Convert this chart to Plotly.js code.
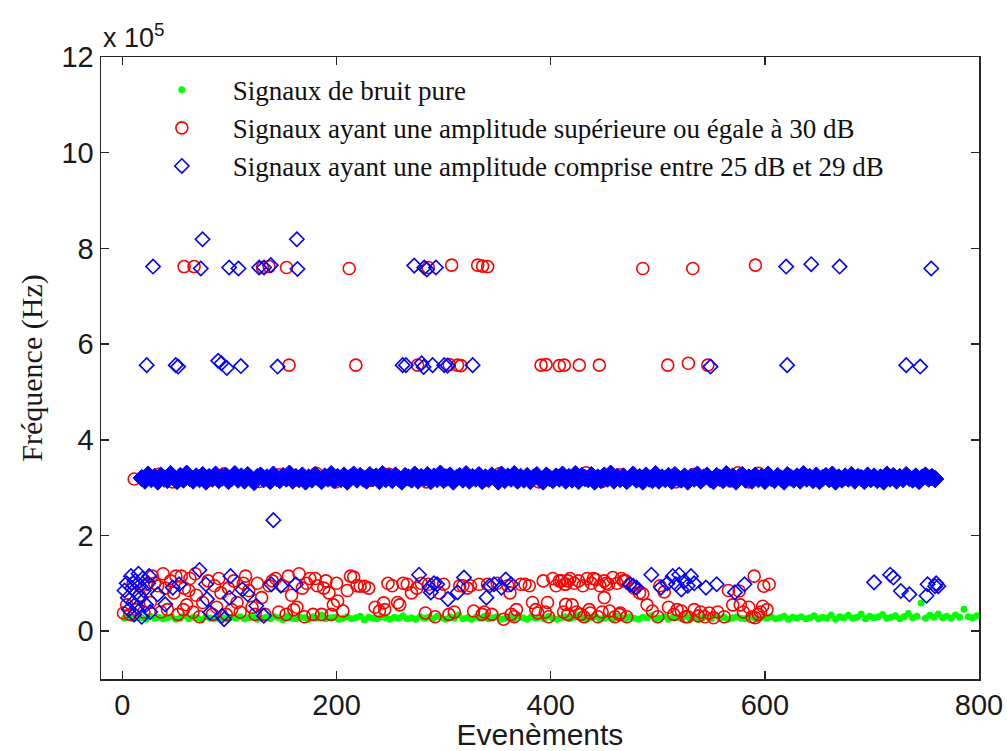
<!DOCTYPE html>
<html>
<head>
<meta charset="utf-8">
<script src="https://cdn.plot.ly/plotly-3.0.1.min.js"></script>
<style>html,body{margin:0;padding:0;background:#fff;}#chart{width:1007px;height:751px;}</style>
</head>
<body>
<div id="chart"></div>
<script>
// Values in units of 10^5 Hz
var seriesNames = ["Signaux de bruit pure",
  "Signaux ayant une amplitude supérieure ou égale à 30 dB",
  "Signaux ayant une amplitude comprise entre 25 dB et 29 dB"];
var xTicks = [0, 200, 400, 600, 800];
var yTicks = [0, 2, 4, 6, 8, 10, 12];
var yExponentLabel = "x 10<sup>5</sup>";

// Pure noise signals (green)
var noiseX = [2,6,10,14,18,22,26,30,34,38,42,46,50,54,58,62,66,70,74,78,82,86,90,94,98,102,106,110,114,118,122,126,130,134,138,142,146,150,154,158,162,166,170,174,178,182,186,190,194,198,202,206,210,214,218,222,226,230,234,238,242,246,250,254,258,262,266,270,274,278,282,286,290,294,298,302,306,310,314,318,322,326,330,334,338,342,346,350,354,358,362,366,370,374,378,382,386,390,394,398,402,406,410,414,418,422,426,430,434,438,442,446,450,454,458,462,466,470,474,478,482,486,490,494,498,502,506,510,514,518,522,526,530,534,538,542,546,550,554,558,562,566,570,574,578,582,586,590,594,598,602,606,610,614,618,622,626,630,634,638,642,646,650,654,658,662,666,670,674,678,682,686,690,694,698,702,706,710,714,718,722,726,730,734,738,742,746,750,754,758,762,766,770,774,778,782,786,790,794,798];
var noiseY = [0.27,0.29,0.26,0.30,0.28,0.25,0.31,0.27,0.29,0.26,
  0.28,0.30,0.25,0.27,0.32,0.26,0.29,0.28,0.24,0.30,
  0.27,0.26,0.31,0.28,0.25,0.29,0.27,0.30,0.26,0.28,
  0.32,0.25,0.27,0.29,0.26,0.30,0.28,0.24,0.31,0.27,
  0.26,0.29,0.28,0.25,0.30,0.27,0.33,0.26,0.28,0.29,
  0.25,0.27,0.30,0.26,0.28,0.31,0.24,0.29,0.27,0.26,
  0.30,0.28,0.25,0.29,0.27,0.32,0.26,0.28,0.25,0.30,
  0.27,0.29,0.26,0.31,0.28,0.25,0.30,0.27,0.34,0.26,
  0.28,0.25,0.29,0.27,0.31,0.26,0.28,0.30,0.25,0.27,
  0.29,0.26,0.32,0.28,0.25,0.30,0.27,0.29,0.26,0.31,
  0.27,0.25,0.28,0.30,0.26,0.29,0.33,0.27,0.25,0.28,
  0.30,0.26,0.27,0.29,0.25,0.31,0.28,0.26,0.30,0.27,
  0.25,0.29,0.28,0.32,0.26,0.27,0.30,0.25,0.29,0.28,
  0.26,0.31,0.27,0.29,0.25,0.28,0.30,0.26,0.33,0.27,
  0.29,0.25,0.28,0.30,0.27,0.26,0.32,0.28,0.25,0.29,
  0.27,0.30,0.26,0.28,0.31,0.25,0.29,0.27,0.30,0.26,
  0.28,0.32,0.26,0.29,0.27,0.34,0.25,0.30,0.28,0.33,
  0.27,0.29,0.36,0.26,0.31,0.28,0.30,0.35,0.27,0.29,
  0.32,0.26,0.30,0.37,0.28,0.31,0.59,0.27,0.33,0.29,
  0.36,0.28,0.31,0.27,0.34,0.29,0.46,0.30,0.28,0.32];

// Signals >= 30 dB (red circles)
var highX = [
  // low cluster
  1,4,7,10,13,16,20,23,26,
  28,33,38,42,45,48,52,55,58,60,63,66,69,72,86,88,92,97,104,107,110,115,118,121,126,130,133,143,146,150,155,158,160,165,168,170,175,178,182,186,190,193,197,200,
  201,206,213,216,222,226,236,240,244,252,257,262,266,270,283,286,292,296,305,318,325,328,333,338,345,356,362,363,368,372,380,383,388,393,397,398,402,408,413,416,
  410,414,418,422,426,430,434,438,442,446,450,454,458,462,466,470,474,414,450,420,424,431,437,444,455,460,465,471,486,490,495,500,506,510,515,522,528,534,538,548,552,566,570,576,577,588,590,599,598,591,604,596,602,
  30,36,40,50,57,62,68,75,80,84,90,99,102,113,124,137,140,153,163,172,180,188,195,
  210,219,230,245,248,259,275,279,300,310,315,322,336,341,350,360,366,376,386,395,405,
  412,416,428,436,440,448,452,464,468,478,483,502,518,526,540,544,556,562,580,585,594,
  // band near 3.2
  11,20,34,47,61,79,95,112,128,146,163,181,199,214,232,249,266,284,301,318,337,352,371,389,406,423,433,448,465,482,499,517,534,551,568,575,585,594,601,
  // row near 5.55
  155.7,218,275.7,305.2,313,316.2,391,395.6,408,412.7,426.7,445.4,509.3,528.6,546.7,
  // row near 7.6
  57.6,66.9,130.8,137,153.3,211.8,285.6,307.5,331.8,336.4,341.1,486,532.7,591.2];
var highY = [
  0.38,0.55,0.35,1.0,0.45,0.75,0.4,0.98,0.6,
  1.15,0.95,1.2,0.45,1.05,0.8,0.35,1.15,0.9,0.55,1.1,0.4,0.75,0.3,0.95,0.5,0.8,0.35,1.05,0.6,0.4,1.15,0.85,0.5,1.0,0.7,0.35,1.1,0.4,0.95,1.15,0.75,0.45,1.2,0.9,0.3,1.1,0.35,0.95,0.35,1.05,0.8,0.55,1.0,
  0.63,0.42,1.15,1.13,0.94,0.94,0.5,0.42,0.59,0.95,0.6,1.0,0.98,0.8,0.38,0.98,0.3,0.8,0.35,0.95,0.95,0.42,0.98,0.4,0.35,0.25,0.8,0.35,0.45,0.98,0.95,0.6,0.38,1.05,0.6,0.3,1.1,1.05,0.98,0.35,
  1.05,0.98,1.1,1.0,1.05,0.95,1.1,1.0,1.08,0.95,1.05,0.98,1.12,1.0,1.1,1.05,0.98,0.56,0.7,0.55,0.4,0.3,0.38,0.3,0.42,0.3,0.38,0.3,0.78,0.55,0.42,0.3,0.82,0.5,0.35,0.42,0.3,0.45,0.32,0.38,0.28,0.85,0.55,0.84,0.55,0.3,1.15,0.94,0.52,0.28,0.98,0.4,0.45,
  1.0,0.4,0.9,1.15,0.45,0.85,1.2,0.6,1.05,0.35,1.1,0.9,0.45,1.0,0.35,0.95,1.05,0.35,0.5,1.0,1.1,0.9,0.35,
  0.85,0.95,0.9,0.45,1.0,0.55,0.9,1.0,0.98,0.4,0.95,0.9,0.35,0.98,1.0,0.95,0.3,0.98,0.45,0.4,0.95,
  0.4,1.05,0.35,0.45,1.1,0.4,1.0,0.35,1.05,0.9,0.8,0.95,0.45,0.3,0.4,0.3,0.4,0.3,0.4,0.5,0.35,
  3.18,3.22,3.28,3.12,3.25,3.14,3.29,3.2,3.13,3.27,3.16,3.3,3.12,3.24,3.15,3.28,3.18,3.12,3.26,3.21,3.14,3.29,3.17,3.12,3.25,3.2,3.31,3.13,3.27,3.16,3.22,3.12,3.28,3.19,3.14,3.31,3.12,3.3,3.2,
  5.56,5.56,5.56,5.57,5.56,5.55,5.56,5.57,5.55,5.56,5.56,5.56,5.56,5.6,5.56,
  7.62,7.62,7.6,7.62,7.6,7.58,7.6,7.65,7.65,7.63,7.62,7.58,7.58,7.65];

// Signals 25-29 dB (blue diamonds), scattered points
var midX = [
  2,4,5,6,8,9,10,11,12,13,14,15,16,17,18,19,20,22,24,26,25,33,40,47,53,72,78,79,82,93,95,101,100,112,117,125,132,139,148,162,
  277,287,291,294,288,304,313,319,340,343,347,354,363,358,
  474,477,480,494,503,509,514,517,520,522,525,528,531,534,545,555,572,581,
  702,717,720,727,735,751,752,759,762,760,
  141,
  22.7,49.8,52,89.4,92.5,97.5,110.6,144.9,261.7,264.8,279.4,281.3,289.7,300.6,303.7,327.1,549.2,620.8,732,745.1,
  28.6,73.2,99.7,108.4,127.7,132.3,138.6,163.5,272.5,281.9,284.4,292.8,619.9,643.3,669.8,755.4,
  74.8,162.9];
var midY = [
  0.85,1.0,0.7,0.45,1.15,0.9,0.6,0.35,1.05,0.8,0.5,1.2,0.95,0.7,0.3,1.1,0.85,0.55,1.0,0.4,1.15,0.77,0.56,0.91,0.98,1.28,0.98,0.67,0.39,0.32,0.25,1.15,0.7,0.87,0.77,0.53,0.32,0.98,0.95,0.98,
  1.18,0.91,1.0,0.98,0.81,0.67,0.81,1.12,0.7,0.95,0.98,0.91,0.98,1.08,
  0.98,0.95,0.91,1.18,0.91,1.0,1.15,0.98,1.18,0.87,1.05,0.95,1.15,1.0,0.91,0.98,0.81,0.98,
  1.02,1.18,1.12,0.84,0.77,0.74,0.98,0.94,0.94,1.0,
  2.32,
  5.56,5.56,5.53,5.65,5.6,5.5,5.54,5.53,5.56,5.56,5.6,5.52,5.56,5.56,5.55,5.56,5.53,5.56,5.56,5.53,
  7.62,7.58,7.6,7.58,7.6,7.6,7.65,7.57,7.64,7.6,7.56,7.6,7.62,7.67,7.62,7.58,
  8.19,8.19];

// Blue diamonds forming the dense band near 3.2
var midBandX = [18,21,24,27,30,33,36,39,42,45,48,51,54,57,60,63,66,69,72,75,78,81,84,87,90,93,96,99,102,105,108,111,114,117,120,123,126,129,132,135,138,141,144,147,150,153,156,159,162,165,168,171,174,177,180,183,186,189,192,195,198,201,204,207,210,213,216,219,222,225,228,231,234,237,240,243,246,249,252,255,258,261,264,267,270,273,276,279,282,285,288,291,294,297,300,303,306,309,312,315,318,321,324,327,330,333,336,339,342,345,348,351,354,357,360,363,366,369,372,375,378,381,384,387,390,393,396,399,402,405,408,411,414,417,420,423,426,429,432,435,438,441,444,447,450,453,456,459,462,465,468,471,474,477,480,483,486,489,492,495,498,501,504,507,510,513,516,519,522,525,528,531,534,537,540,543,546,549,552,555,558,561,564,567,570,573,576,579,582,585,588,591,594,597,600,603,606,609,612,615,618,621,624,627,630,633,636,639,642,645,648,651,654,657,660,663,666,669,672,675,678,681,684,687,690,693,696,699,702,705,708,711,714,717,720,723,726,729,732,735,738,741,744,747,750,753,756,759];
var midBandY = [3.20,3.15,3.27,3.18,3.22,3.13,3.25,3.19,3.16,3.28,
  3.21,3.14,3.24,3.17,3.29,3.20,3.15,3.23,3.18,3.26,
  3.13,3.22,3.19,3.27,3.16,3.21,3.24,3.14,3.20,3.28,
  3.17,3.23,3.15,3.26,3.19,3.12,3.22,3.25,3.18,3.21,
  3.14,3.27,3.20,3.16,3.24,3.19,3.29,3.15,3.22,3.18,
  3.25,3.13,3.21,3.17,3.26,3.20,3.14,3.23,3.19,3.28,
  3.16,3.22,3.18,3.25,3.13,3.21,3.27,3.17,3.24,3.19,
  3.15,3.26,3.20,3.23,3.14,3.28,3.18,3.22,3.16,3.25,
  3.19,3.13,3.24,3.21,3.17,3.27,3.15,3.22,3.20,3.26,
  3.14,3.23,3.18,3.29,3.16,3.21,3.25,3.13,3.20,3.24,
  3.17,3.28,3.15,3.22,3.19,3.26,3.14,3.21,3.18,3.25,
  3.20,3.13,3.27,3.16,3.23,3.19,3.28,3.15,3.22,3.17,
  3.24,3.14,3.21,3.26,3.18,3.13,3.25,3.20,3.16,3.23,
  3.19,3.27,3.15,3.22,3.17,3.28,3.14,3.24,3.20,3.18,
  3.26,3.13,3.21,3.16,3.25,3.19,3.29,3.15,3.22,3.18,
  3.23,3.14,3.20,3.27,3.17,3.22,3.13,3.25,3.19,3.16,
  3.28,3.15,3.21,3.18,3.24,3.14,3.26,3.20,3.17,3.23,
  3.13,3.22,3.19,3.27,3.15,3.21,3.25,3.18,3.14,3.24,
  3.20,3.16,3.28,3.19,3.23,3.13,3.22,3.26,3.17,3.21,
  3.15,3.25,3.18,3.22,3.14,3.27,3.20,3.16,3.24,3.19,
  3.13,3.26,3.21,3.17,3.23,3.15,3.28,3.19,3.22,3.16,
  3.25,3.14,3.20,3.24,3.18,3.27,3.13,3.21,3.17,3.23,
  3.19,3.26,3.15,3.22,3.20,3.14,3.25,3.18,3.23,3.16,
  3.21,3.13,3.27,3.19,3.24,3.15,3.22,3.18,3.26,3.20,
  3.17,3.23,3.14,3.21,3.25,3.19,3.22,3.18];

var sans = "Liberation Sans, Arial, Helvetica, sans-serif";
var serif = "Liberation Serif, Times New Roman, serif";
var axisColor = "#262626";

var traces = [
  {type: "scatter", mode: "markers", name: seriesNames[0], x: noiseX, y: noiseY,
   marker: {symbol: "circle", size: 7, color: "#00ff00", line: {width: 0}}},
  {type: "scatter", mode: "markers", name: seriesNames[1], x: highX, y: highY,
   marker: {symbol: "circle-open", size: 12, color: "#ff0000", line: {width: 1.6, color: "#ff0000"}}},
  {type: "scatter", mode: "markers", name: seriesNames[2], x: midX, y: midY, legendgroup: "mid",
   marker: {symbol: "diamond-open", size: 11, color: "#0000ff", line: {width: 1.6, color: "#0000ff"}}},
  {type: "scatter", mode: "markers", name: seriesNames[2], x: midBandX, y: midBandY, legendgroup: "mid", showlegend: false,
   marker: {symbol: "diamond", size: 13.5, color: "#0000ff", line: {width: 1, color: "#0000ff"}}}
];

var layout = {
  width: 1007, height: 751,
  margin: {l: 101, r: 28, t: 57, b: 72, pad: 0},
  paper_bgcolor: "#ffffff", plot_bgcolor: "#ffffff",
  showlegend: true,
  legend: {x: 0.034, y: 0.986, xanchor: "left", yanchor: "top", bgcolor: "rgba(255,255,255,0)",
    itemwidth: 92, font: {family: serif, size: 27, color: "#111"}, tracegroupgap: 0},
  xaxis: {range: [-20, 800], tickvals: xTicks, ticks: "inside", ticklen: 8, tickwidth: 1.5, tickcolor: axisColor,
    showline: true, linecolor: axisColor, linewidth: 1.5, mirror: "ticks", showgrid: false, zeroline: false,
    tickfont: {family: sans, size: 29, color: "#1a1a1a"},
    title: {text: "Evenèments", font: {family: sans, size: 30, color: "#1a1a1a"}, standoff: 9}},
  yaxis: {range: [-1, 12], tickvals: yTicks, ticks: "inside", ticklen: 8, tickwidth: 1.5, tickcolor: axisColor,
    showline: true, linecolor: axisColor, linewidth: 1.5, mirror: "ticks", showgrid: false, zeroline: false,
    tickfont: {family: sans, size: 29, color: "#1a1a1a"},
    title: {text: "Fréquence (Hz)", font: {family: serif, size: 30, color: "#1a1a1a"}, standoff: 10}},
  annotations: [{xref: "paper", yref: "paper", x: 0, y: 1, xanchor: "left", yanchor: "bottom", yshift: 2,
    showarrow: false, text: yExponentLabel, font: {family: sans, size: 27, color: "#1a1a1a"}}]
};

Plotly.newPlot("chart", traces, layout, {displayModeBar: false, staticPlot: true});
</script>
</body>
</html>
